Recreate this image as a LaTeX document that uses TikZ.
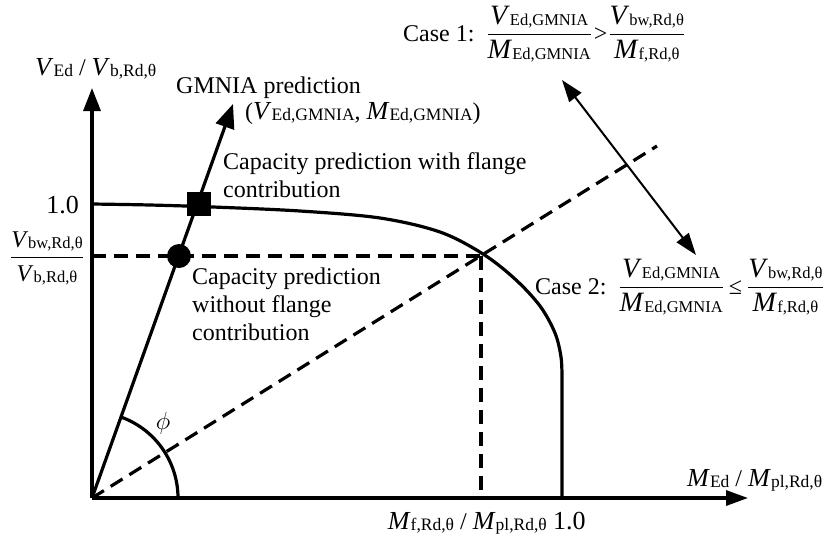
\documentclass[tikz,border=0pt]{standalone}
\usepackage{amsmath}
\usepackage{fontspec}
\setmainfont{Liberation Serif}
\usetikzlibrary{arrows.meta}
\newcommand\mainsz{\fontsize{24}{28}\selectfont}
\newcommand\qn[2]{{\fontsize{26}{28}\selectfont\textit{#1}}\raisebox{-1.5pt}{\fontsize{17.5}{18}\selectfont #2}}
\newcommand\qs[2]{{\fontsize{24}{28}\selectfont\textit{#1}}\raisebox{-1.5pt}{\fontsize{16.5}{18}\selectfont #2}}
\newcommand\qb[2]{{\fontsize{28}{30}\selectfont\textit{#1}}\raisebox{-1.5pt}{\fontsize{16.5}{18}\selectfont #2}}
\newcommand\myfr[2]{$\genfrac{}{}{1.3pt}{0}{\hbox{#1}}{\hbox{#2}}$}
\tikzset{
  ln/.style={line width=3.2pt},
  dsh/.style={line width=3.2pt, dash pattern=on 14pt off 8pt},
  thin arrow/.style={line width=2pt, {Triangle[length=22pt,width=15pt]}-{Triangle[length=22pt,width=15pt]}},
  big arrow/.style={line width=3.2pt, -{Triangle[length=24pt,width=19pt]}},
  lbl/.style={inner sep=0pt, font=\mainsz},
}
\begin{document}
\begin{tikzpicture}[x=1pt,y=-1pt]
\useasboundingbox (0,0) rectangle (828,542);
% key points
\coordinate (O) at (92,498);
\coordinate (ytip) at (92,88);
\coordinate (xtip) at (748,498);
\coordinate (gtip) at (233,104);
\coordinate (one) at (92,204);
\coordinate (vbw) at (92,256);
\coordinate (P) at (481,256);
\coordinate (Pax) at (481,498);
\coordinate (dend) at (657,146);
\coordinate (cend) at (562,498);
\coordinate (a1) at (562,80);
\coordinate (a2) at (696,255);

% dashed helper lines
\draw[dsh] (vbw) -- (P);
\draw[dsh] (P) -- (Pax);
\draw[dsh] (O) -- (dend);

% axes
\draw[ln, -{Triangle[length=23pt,width=17pt]}] (O) -- (ytip);
\draw[ln, -{Triangle[length=22pt,width=15pt]}] (O) -- (xtip);

% interaction curve
\draw[ln] plot[smooth, tension=0.55] coordinates {(92,204) (150,205) (213,207) (300,211) (380,218) (440,232) (483,254) (515,279) (540,306) (555,333) (561,357) (562,378)} -- (cend);

% GMNIA line
\draw[big arrow] (O) -- (gtip);

% angle arc
\draw[ln] (O) ++(86,0) arc[start angle=0, end angle=-70.3, radius=86];

% markers
\node[fill=black, minimum size=24pt, inner sep=0pt] (sq) at (199,204) {};
\node[circle, fill=black, minimum size=24pt, inner sep=0pt] (ci) at (179,256) {};

% double arrow
\draw[thin arrow] (a1) -- (a2);

% labels
\node[lbl, anchor=base west] (ylab) at (35,75) {\qn{V}{Ed} / \qn{V}{b,Rd,θ}};
\node[lbl, anchor=base west] (gm1) at (176,93) {GMNIA prediction};
\node[lbl, anchor=base west] (gm2) at (245,119) {(\qn{V}{Ed,GMNIA}, \qn{M}{Ed,GMNIA})};
\node[lbl, anchor=base west] (cw1) at (223,169) {Capacity prediction with flange};
\node[lbl, anchor=base west] (cw2) at (223,197) {contribution};
\node[lbl, anchor=base west] (co1) at (192,284) {Capacity prediction};
\node[lbl, anchor=base west] (co2) at (192,312) {without flange};
\node[lbl, anchor=base west] (co3) at (192,340) {contribution};
\node[lbl, anchor=base east, font=\fontsize{26}{28}\selectfont] (y1) at (79,213) {1.0};
\node[lbl, anchor=base] (yfr) at (47,264) {\myfr{\qs{V}{bw,Rd,θ}}{\qs{V}{b,Rd,θ}}};
\node[lbl] (phi) at (163,423) {$\phi$};
\node[lbl, anchor=base west] (xlab) at (687,486) {\qn{M}{Ed} / \qn{M}{pl,Rd,θ}};
\node[lbl, anchor=base east] (xfr) at (547,529) {\qn{M}{f,Rd,θ} / \qn{M}{pl,Rd,θ}};
\node[lbl, anchor=base west, font=\fontsize{26}{28}\selectfont] (x1) at (553,529) {1.0};
\node[lbl, anchor=base west] (case1) at (403,41) {Case 1:\hspace{12pt}\myfr{\qb{V}{Ed,GMNIA}}{\qb{M}{Ed,GMNIA}}\hspace{2pt}>\hspace{1pt}\myfr{\qb{V}{bw,Rd,θ}}{\qb{M}{f,Rd,θ}}};
\node[lbl, anchor=base west] (case2) at (535,294) {Case 2:\hspace{12pt}\myfr{\qb{V}{Ed,GMNIA}}{\qb{M}{Ed,GMNIA}}\hspace{5pt}≤\hspace{5pt}\myfr{\qb{V}{bw,Rd,θ}}{\qb{M}{f,Rd,θ}}};
\end{tikzpicture}
\end{document}
